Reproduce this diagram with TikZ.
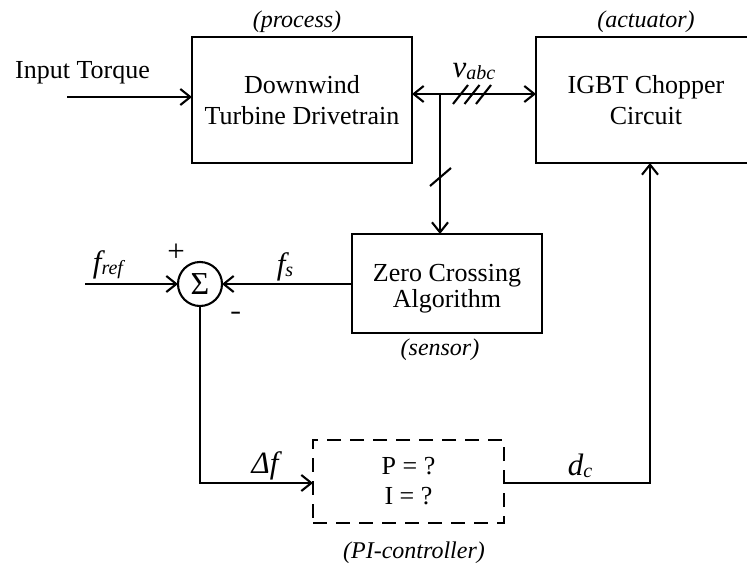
\documentclass[tikz,border=0pt]{standalone}
\usepackage{fontspec}
\setmainfont{Liberation Serif}
\usetikzlibrary{arrows.meta}
\newcommand\sbs[1]{\raisebox{-2pt}{\fontsize{20}{20}\selectfont #1}}
\begin{document}
\begin{tikzpicture}[x=1pt,y=-1pt,
  every node/.style={inner sep=0pt, outer sep=0pt},
  blk/.style={draw, line width=2.1pt, rectangle, align=center, font=\fontsize{26}{31}\selectfont},
  txt/.style={align=center, font=\fontsize{26}{26}\selectfont},
  wire/.style={line width=2.1pt},
  tip/.tip={Straight Barb[length=10pt,width=16pt,line width=2.1pt]},
  arr/.style={wire, -tip},
  lbl/.style={font=\fontsize{24}{28}\selectfont\itshape, anchor=base},
  sig/.style={font=\fontsize{31}{34}\selectfont\itshape, anchor=base},
]
\useasboundingbox (0,0) rectangle (747,565);
\clip (0,0) rectangle (747,565);

% blocks
\node[blk, minimum width=220pt, minimum height=126pt] (dw) at (302,100) {Downwind\\Turbine Drivetrain};
\node[blk, minimum width=220pt, minimum height=126pt] (ig) at (646,100) {IGBT Chopper\\Circuit};
\node[blk, minimum width=190pt, minimum height=99pt] (zc) at (447,283.5) {};
\node[txt] (zct) at (447,289) {Zero Crossing\\Algorithm};
\node[blk, dash pattern=on 14pt off 9pt, minimum width=191pt, minimum height=83pt, font=\fontsize{26}{30}\selectfont] (pi) at (408.5,481.5) {P = ?\\I = ?};
\node[draw, circle, line width=2.1pt, minimum size=44pt, font=\fontsize{32}{32}\selectfont] (sum) at (200,284) {Σ};

% labels
\node[lbl] (lp) at (297,27) {(process)};
\node[lbl] (la) at (646,27) {(actuator)};
\node[lbl] (ls) at (440,355) {(sensor)};
\node[lbl] (lc) at (414,558) {(PI-controller)};
\node[font=\fontsize{26}{30}\selectfont, anchor=base] (it) at (82.5,78) {Input Torque};
\node[sig] (vabc) at (474,77) {v\sbs{abc}};
\node[sig] (fref) at (108,272) {f\sbs{ref}};
\node[sig] (fs) at (285,274) {f\sbs{s}};
\node[sig] (df) at (265,473) {Δf};
\node[sig] (dc) at (580,475) {d\sbs{c}};
\node[font=\fontsize{31}{31}\selectfont] (plus) at (176,253) {+};
\node[font=\fontsize{34}{34}\selectfont\sffamily] (minus) at (237,316) {-};

% connectors
\coordinate (in) at (67,97);
\coordinate (j) at (440,94);
\coordinate (fr) at (85,284);
\coordinate (up) at (650,483);
\draw[arr] (in) -- (dw.west|-in);
\draw[wire, tip-tip] (dw.east|-j) -- (ig.west|-j);
\draw[arr] (j) -- (j|-zc.north);
\draw[arr] (zc.west|-sum) -- (sum.east);
\draw[arr] (fr) -- (sum.west);
\draw[arr] (sum.south) -- (sum.south|-up) -- (pi.west|-up);
\draw[arr] (pi.east|-up) -- (up) -- (up|-ig.south);

% bus hash marks
\draw[wire] (453,104) -- (468,85);
\draw[wire] (464.5,104) -- (479.5,85);
\draw[wire] (476,104) -- (491,85);
\draw[wire] (430,186) -- (451,168);
\end{tikzpicture}
\end{document}
